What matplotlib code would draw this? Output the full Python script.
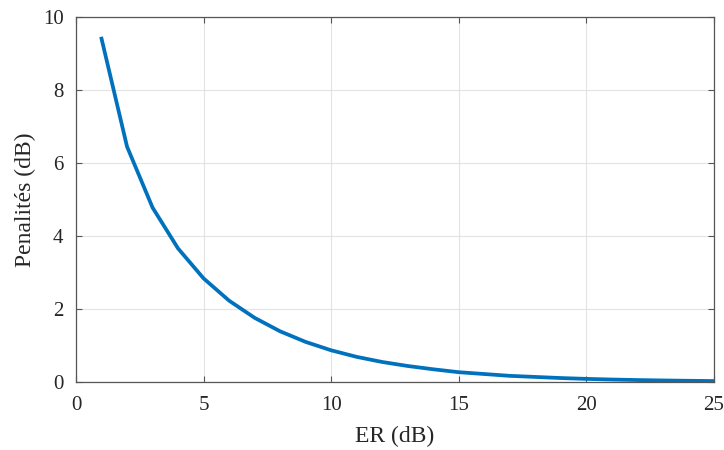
import matplotlib
matplotlib.use("Agg")
import matplotlib.pyplot as plt

plt.rcParams['font.family'] = ['Liberation Serif', 'DejaVu Serif']

# extinction ratio (dB) and power penalty (dB)
er_db = [1, 2, 3, 4, 5, 6, 7, 8, 9, 10, 11, 12, 13, 14, 15, 16, 17, 18, 19, 20,
         21, 22, 23, 24, 25]
penalty_db = [9.41, 6.45, 4.78, 3.66, 2.84, 2.23, 1.76, 1.39, 1.10, 0.87,
              0.69, 0.55, 0.44, 0.35, 0.27, 0.22, 0.17, 0.14, 0.11, 0.087,
              0.069, 0.055, 0.044, 0.035, 0.027]

xticks = [0, 5, 10, 15, 20, 25]
yticks = [0, 2, 4, 6, 8, 10]

fig = plt.figure(figsize=(7.24, 4.5), dpi=100)
ax = fig.add_axes([0.105, 0.151, 0.881, 0.811])

ax.plot(er_db, penalty_db, color='#0072BD', linewidth=2.7)

ax.set_xlim(0, 25)
ax.set_ylim(0, 10)
ax.set_xticks(xticks)
ax.set_yticks(yticks)
ax.grid(True, color='#e3e3e3', linewidth=0.8)
ax.set_axisbelow(True)
ax.tick_params(direction='in', length=4, labelsize=15, colors='#555555',
               labelcolor='#262626', top=True, right=True,
               labeltop=False, labelright=False)
ax.tick_params(axis='x', pad=10)
ax.tick_params(axis='y', pad=9)
for s in ax.spines.values():
    s.set_color('#555555')
    s.set_linewidth(0.9)

ax.set_xlabel("ER (dB)", fontsize=17, color='#262626', labelpad=8)
ax.set_ylabel("Penalités (dB)", fontsize=17, color='#262626', labelpad=5)

fig.savefig("out.png", dpi=100)
